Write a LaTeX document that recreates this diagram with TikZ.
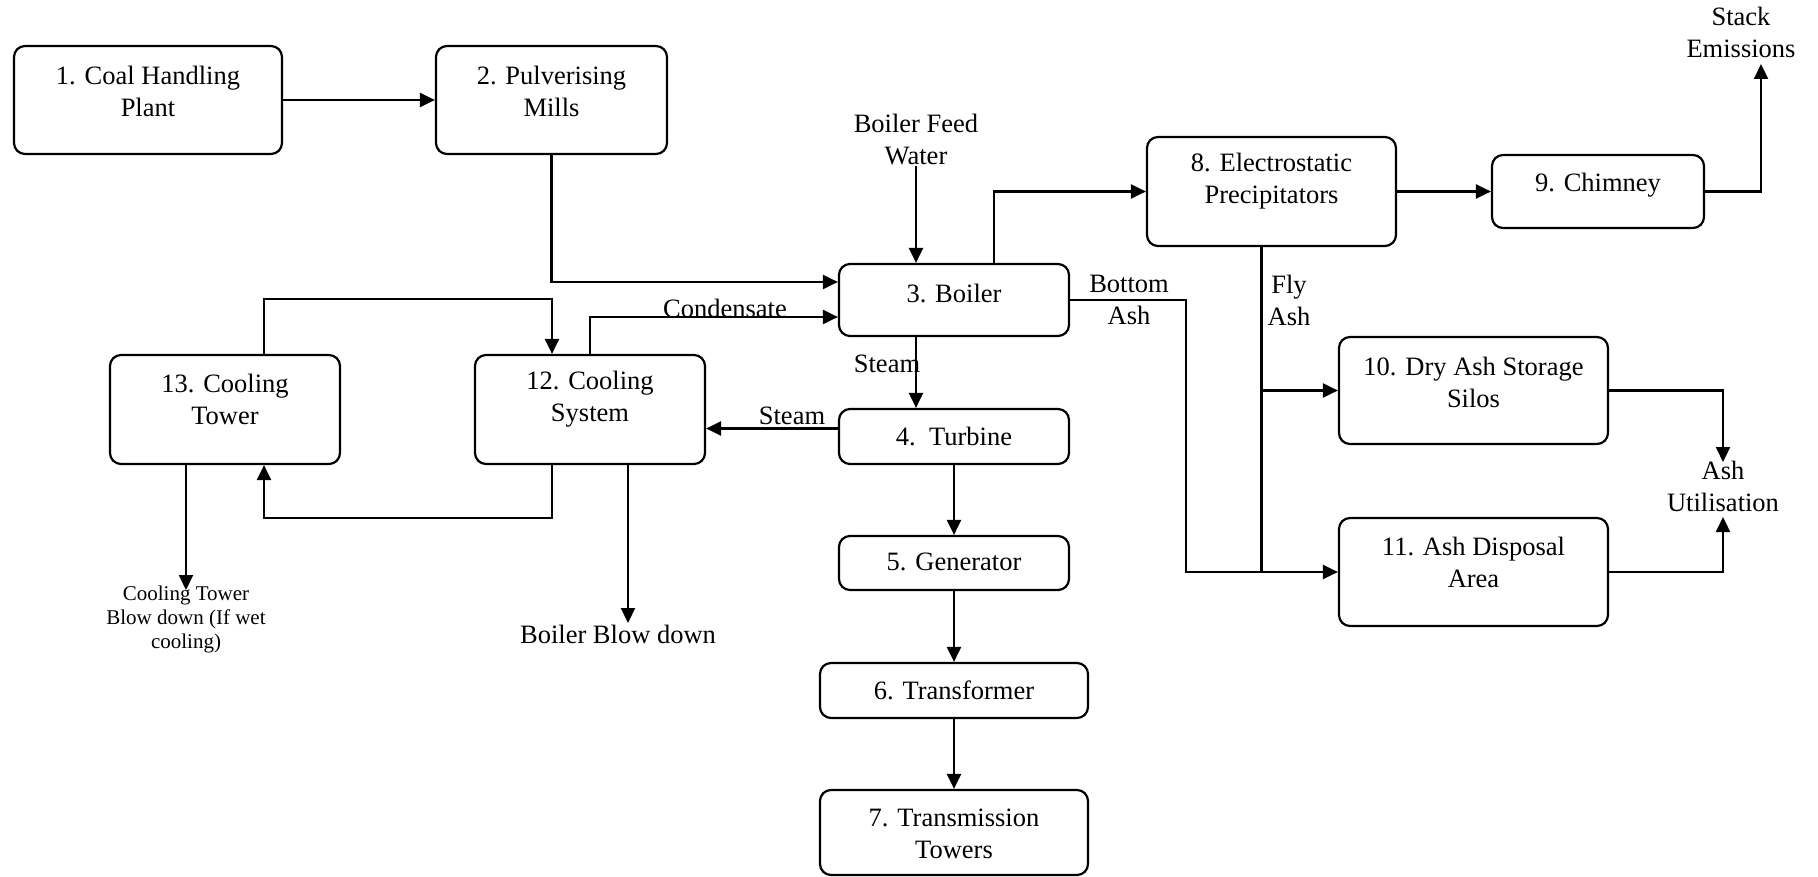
\documentclass[tikz,border=0pt]{standalone}
\usepackage{fontspec}
\setmainfont{Liberation Serif}
\usetikzlibrary{arrows.meta,calc}
\begin{document}
\begin{tikzpicture}[x=1pt,y=-1pt,
  box/.style={draw,line width=2.2pt,rounded corners=11pt,inner sep=0pt},
  txt/.style={align=center,font=\fontsize{26.5}{32}\selectfont,inner sep=0pt},
  small/.style={align=center,font=\fontsize{21}{24}\selectfont,inner sep=0pt},
  ln/.style={line width=2.2pt},
  arr/.style={ln,-{Triangle[length=15pt,width=14pt]}}]
\useasboundingbox (0,0) rectangle (1818,877);
% boxes
\node[box,minimum width=268pt,minimum height=108pt] (b1) at (148,100) {};
\node[box,minimum width=231pt,minimum height=108pt] (b2) at (551.5,100) {};
\node[box,minimum width=230pt,minimum height=72pt] (b3) at (954,300) {};
\node[box,minimum width=230pt,minimum height=55pt] (b4) at (954,436.5) {};
\node[box,minimum width=230pt,minimum height=54pt] (b5) at (954,563) {};
\node[box,minimum width=268pt,minimum height=55pt] (b6) at (954,690.5) {};
\node[box,minimum width=268pt,minimum height=85pt] (b7) at (954,832.5) {};
\node[box,minimum width=249pt,minimum height=109pt] (b8) at (1271.5,191.5) {};
\node[box,minimum width=212pt,minimum height=73pt] (b9) at (1598,191.5) {};
\node[box,minimum width=269pt,minimum height=107pt] (b10) at (1473.5,390.5) {};
\node[box,minimum width=269pt,minimum height=108pt] (b11) at (1473.5,572) {};
\node[box,minimum width=230pt,minimum height=109pt] (b12) at (590,409.5) {};
\node[box,minimum width=230pt,minimum height=109pt] (b13) at (225,409.5) {};
% box texts
\node[txt] (t1) at (148,91) {1. Coal Handling\\Plant};
\node[txt] (t2) at (551.5,91) {2. Pulverising\\Mills};
\node[txt] (t3) at (954,293) {3. Boiler};
\node[txt] (t4) at (954,436) {4.\ \ Turbine};
\node[txt] (t5) at (954,562) {5. Generator};
\node[txt] (t6) at (954,690) {6. Transformer};
\node[txt] (t7) at (954,834) {7. Transmission\\Towers};
\node[txt] (t8) at (1271.5,181.5) {8. Electrostatic\\Precipitators};
\node[txt] (t9) at (1598,185.5) {9. Chimney};
\node[txt] (t10) at (1473.5,382) {10. Dry Ash Storage\\Silos};
\node[txt] (t11) at (1473.5,562) {11. Ash Disposal\\Area};
\node[txt] (t12) at (590,399) {12. Cooling\\System};
\node[txt] (t13) at (225,399) {13. Cooling\\Tower};
% free labels
\node[txt] (bfw) at (916,140) {Boiler Feed\\Water};
\node[txt] (cond) at (725,308) {Condensate};
\node[txt] (steam1) at (887,364) {Steam};
\node[txt] (steam2) at (792,416) {Steam};
\node[txt] (bash) at (1129,300) {Bottom\\Ash};
\node[txt] (fash) at (1289,300) {Fly\\Ash};
\node[txt] (stack) at (1741,32) {Stack\\Emissions};
\node[txt] (au) at (1723,486) {Ash\\Utilisation};
\node[small] (ctb) at (186,619) {Cooling Tower\\Blow down (If wet\\cooling)};
\node[txt] (bbd) at (618,634) {Boiler Blow down};
% coordinates for free ends
\coordinate (setip) at (1761,64);
\coordinate (autop) at (1723,462);
\coordinate (aubot) at (1723,517);
\coordinate (bbdtop) at (628,623);
\coordinate (ctbtop) at (186,590);
% connectors
\draw[arr] (b1.east) -- (b2.west);
\draw[arr] (b2.south) |- ($(b3.west)+(0,-18)$);
\draw[arr] (bfw.south) -- (bfw.south |- b3.north);
\draw[arr] (b12.north) |- ($(b3.west)+(0,17)$);
\draw[arr] ($(b13.north)+(39,0)$) -- ++(0,-55) -| ($(b12.north)+(-38,0)$);
\draw[arr] ($(b12.south)+(-38,0)$) -- ++(0,53) -| ($(b13.south)+(39,0)$);
\draw[arr] ($(b13.south)+(-39,0)$) -- (ctbtop);
\draw[arr] ($(b12.south)+(38,0)$) -- (bbdtop);
\coordinate (st) at ($(b4.west)+(0,-8)$);
\draw[arr] (st) -- (st -| b12.east);
\draw[arr] ($(b3.south)+(-38,0)$) -- ($(b4.north)+(-38,0)$);
\draw[arr] (b4.south) -- (b5.north);
\draw[arr] (b5.south) -- (b6.north);
\draw[arr] (b6.south) -- (b7.north);
\draw[arr] ($(b3.north)+(40,0)$) |- (b8.west);
\draw[arr] (b8.east) -- (b9.west);
\draw[arr] (b9.east) -| (setip);
\coordinate (fa) at ($(b8.south)+(-10,0)$);
\draw[ln] (fa) -- (fa |- b11.west);
\draw[arr] (fa |- b10.west) -- (b10.west);
\draw[arr] (b3.east) -- ++(116,0) |- (b11.west);
\draw[arr] (b10.east) -| (autop);
\draw[arr] (b11.east) -| (aubot);
\end{tikzpicture}
\end{document}
